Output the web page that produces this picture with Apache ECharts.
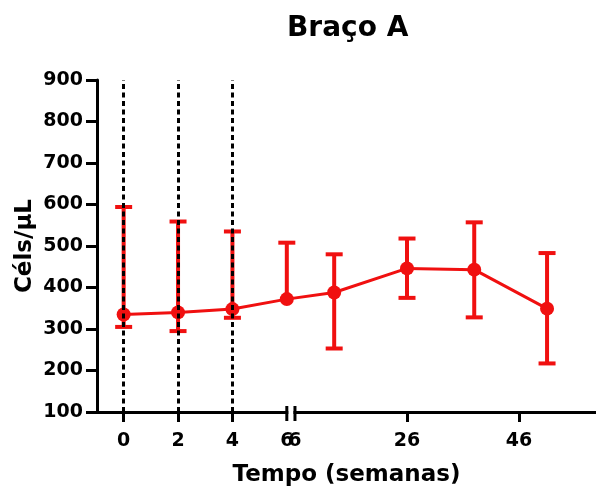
<!DOCTYPE html>
<html>
<head>
<meta charset="utf-8">
<script src="https://cdn.jsdelivr.net/npm/echarts@6/dist/echarts.min.js"></script>
<style>
  html, body { margin: 0; padding: 0; background: #fff; }
  #chart { width: 596px; height: 491px; }
</style>
</head>
<body>
<div id="chart"></div>
<script>
// Cell counts (Céls/µL) per visit, with error bar limits
const weeks = [0, 2, 4, 6, 13, 26, 38, 51];
const means = [335, 340, 348, 372, 388, 446, 443, 349];
const upper = [594, 559, 535, 508, 480, 518, 557, 483];
const lower = [305, 295, 327, null, 253, 375, 328, 217];

// Tick labels on either side of the axis break
const leftTicks = [0, 2, 4, 6];
const rightTicks = [6, 26, 46];
// Visits marked with a dashed guide line
const guideWeeks = [0, 2, 4];

const RED = '#f01010';
const FONT = 'DejaVu Sans';

// Broken time axis: 0–6 weeks at full scale, a short gap, then a compressed scale
const BREAK_AT = 6;
const GAP = 0.3;
const RIGHT_SCALE = 0.206;
function toAxis(w, rightSide) {
  if (!rightSide && w <= BREAK_AT) return w;
  return BREAK_AT + GAP + (w - BREAK_AT) * RIGHT_SCALE;
}
function fromAxis(v) {
  if (v <= BREAK_AT + 1e-6) return v;
  return BREAK_AT + (v - BREAK_AT - GAP) / RIGHT_SCALE;
}

const labelValues = leftTicks.map(w => toAxis(w, false))
  .concat(rightTicks.map(w => toAxis(w, true)));
const tickValues = leftTicks.filter(w => w < BREAK_AT).map(w => toAxis(w, false))
  .concat(rightTicks.filter(w => w > BREAK_AT).map(w => toAxis(w, true)));

const chart = echarts.init(document.getElementById('chart'));

chart.setOption({
  animation: false,
  backgroundColor: '#fff',
  title: {
    text: 'Braço A',
    left: 282,
    top: 10,
    textStyle: { fontFamily: FONT, fontWeight: 'bold', fontSize: 28, color: '#000' }
  },
  grid: { left: 97, right: 0, top: 80, bottom: 79, outerBoundsMode: 'none' },
  xAxis: {
    type: 'value',
    min: -0.98,
    max: 17.37,
    splitLine: { show: false },
    axisLine: { onZero: false, lineStyle: { color: '#000', width: 3 } },
    axisTick: {
      customValues: tickValues,
      length: 10,
      lineStyle: { color: '#000', width: 3 }
    },
    axisLabel: {
      customValues: labelValues,
      margin: 20,
      hideOverlap: false,
      fontFamily: FONT, fontWeight: 'bold', fontSize: 19, color: '#000',
      formatter: v => String(Math.round(fromAxis(v)))
    },
    name: 'Tempo (semanas)',
    nameLocation: 'middle',
    nameGap: 52,
    nameMoveOverlap: false,
    nameTextStyle: { fontFamily: FONT, fontWeight: 'bold', fontSize: 23, color: '#000' }
  },
  yAxis: {
    type: 'value',
    min: 100,
    max: 900,
    interval: 100,
    splitLine: { show: false },
    axisLine: { onZero: false, lineStyle: { color: '#000', width: 3 } },
    axisTick: { length: 11, lineStyle: { color: '#000', width: 3 } },
    axisLabel: { margin: 14, fontFamily: FONT, fontWeight: 'bold', fontSize: 19, color: '#000' },
    name: 'Céls/µL',
    nameLocation: 'middle',
    nameRotate: 90,
    nameGap: 60,
    nameMoveOverlap: false,
    nameTextStyle: { fontFamily: FONT, fontWeight: 'bold', fontSize: 23, color: '#000' }
  },
  series: [
    {
      // dashed guide lines at the early visits
      type: 'line',
      data: [],
      z: 1,
      markLine: {
        silent: true,
        symbol: 'none',
        label: { show: false },
        lineStyle: { color: '#000', width: 3, type: [5, 3.5] },
        data: guideWeeks.map(w => ({ xAxis: toAxis(w, false) }))
      }
    },
    {
      // error bars
      type: 'custom',
      z: 3,
      data: weeks.map((w, i) => [
        toAxis(w, false), means[i], upper[i],
        lower[i] == null ? means[i] : lower[i],
        lower[i] == null ? 0 : 1
      ]),
      encode: { x: 0, y: [1, 2, 3] },
      renderItem(params, api) {
        const x = api.value(0);
        const top = api.coord([x, api.value(2)]);
        const low = api.coord([x, api.value(3)]);
        const half = 8.5;
        const style = { stroke: RED, lineWidth: 4, fill: null };
        const children = [
          { type: 'line', shape: { x1: top[0], y1: top[1], x2: low[0], y2: low[1] }, style },
          { type: 'line', shape: { x1: top[0] - half, y1: top[1], x2: top[0] + half, y2: top[1] }, style }
        ];
        if (api.value(4)) {
          children.push({ type: 'line', shape: { x1: low[0] - half, y1: low[1], x2: low[0] + half, y2: low[1] }, style });
        }
        return { type: 'group', children };
      }
    },
    {
      // mean values
      type: 'line',
      z: 4,
      data: weeks.map((w, i) => [toAxis(w, false), means[i]]),
      symbol: 'circle',
      symbolSize: 14,
      itemStyle: { color: RED },
      lineStyle: { color: RED, width: 3 }
    },
    {
      // axis break marker
      type: 'custom',
      z: 5,
      clip: false,
      silent: true,
      data: [[toAxis(BREAK_AT, false), toAxis(BREAK_AT, true), 100]],
      encode: { x: [0, 1], y: 2 },
      renderItem(params, api) {
        const a = api.coord([api.value(0), api.value(2)]);
        const b = api.coord([api.value(1), api.value(2)]);
        const style = { stroke: '#000', lineWidth: 3, fill: null };
        return {
          type: 'group',
          children: [
            { type: 'rect', shape: { x: a[0] + 1.5, y: a[1] - 3, width: b[0] - a[0] - 3, height: 6 }, style: { fill: '#fff' } },
            { type: 'line', shape: { x1: a[0], y1: a[1] - 6, x2: a[0], y2: a[1] + 9 }, style },
            { type: 'line', shape: { x1: b[0], y1: b[1] - 6, x2: b[0], y2: b[1] + 9 }, style }
          ]
        };
      }
    }
  ]
});
</script>
</body>
</html>
